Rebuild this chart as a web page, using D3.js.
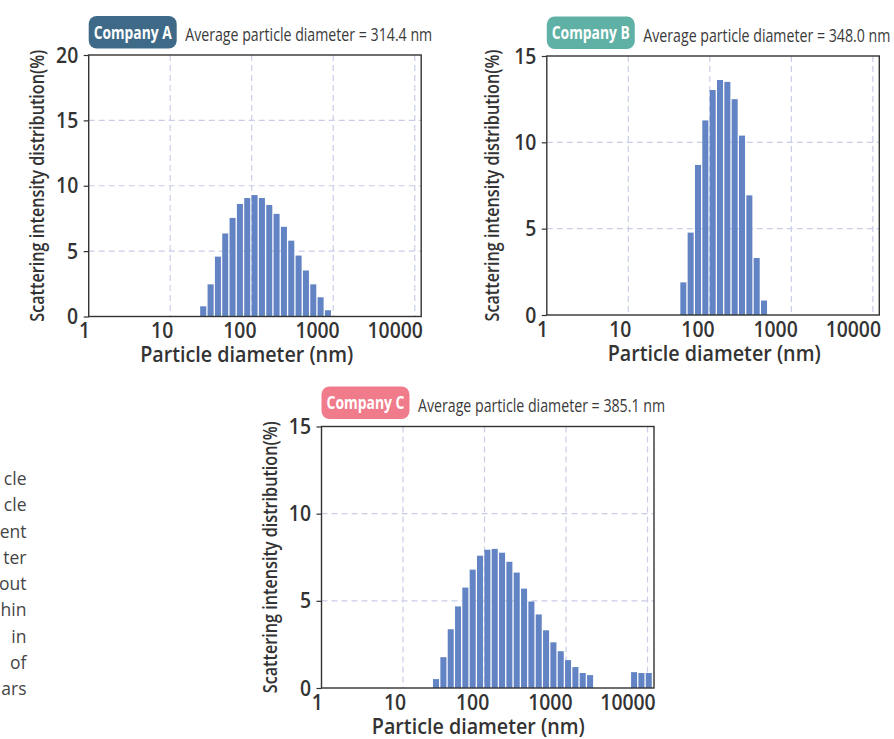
<!DOCTYPE html>
<html><head><meta charset="utf-8">
<script src="https://cdn.jsdelivr.net/npm/d3@7"></script>
<style>
body{margin:0;background:#fff;}
svg{display:block;}
</style></head><body>
<svg id="chart" width="894" height="739"></svg>
<script>
// ---- DATA ----
// bin centres (nm), log-spaced bins shared by all three measurements
const binDiameters = [25.4, 31.3, 38.5, 47.3, 58.2, 71.6, 88.1, 108.4, 133.4, 164.1,
  201.8, 248.3, 305.5, 375.8, 462.4, 568.9, 699.8, 861.0, 1059, 1303,
  1603, 1972, 2427, 2985, 3673, 4519, 5559, 6839, 8414, 10351];
const companyNames = ["Company A", "Company B", "Company C"];
const averageDiameters = [314.4, 348.0, 385.1];
const valuesA = [0.78, 2.46, 4.58, 6.35, 7.54, 8.61, 9.06, 9.29, 9.06, 8.53,
  7.85, 6.86, 5.80, 4.66, 3.52, 2.46, 1.47, 0.48, 0, 0,
  0, 0, 0, 0, 0, 0, 0, 0, 0, 0];
const valuesB = [0, 0, 0, 1.89, 4.77, 8.69, 11.27, 13.03, 13.61, 13.50,
  12.50, 10.39, 6.93, 3.30, 0.84, 0, 0, 0, 0, 0,
  0, 0, 0, 0, 0, 0, 0, 0, 0, 0];
const valuesC = [0.51, 1.77, 3.37, 4.68, 5.76, 6.79, 7.59, 7.93, 7.98, 7.76,
  7.24, 6.62, 5.70, 4.96, 4.22, 3.31, 2.62, 2.11, 1.60, 1.20,
  0.86, 0.74, 0, 0, 0, 0, 0, 0.91, 0.86, 0.86];
const xTickValues = [1, 10, 100, 1000, 10000];
const xGridValues = [10, 100, 1000, 10000];
const yTicksA = [0, 5, 10, 15, 20];
const yTicksB = [0, 5, 10, 15];
const yTicksC = [0, 5, 10, 15];
const xAxisTitle = "Particle diameter (nm)";
const yAxisTitle = "Scattering intensity distribution(%)";
const sideTextFragments = ["cle", "cle", "ent", "ter", "out", "hin", "in", "of", "ars"];

// ---- LAYOUT ----
const svg = d3.select("#chart");
const FONT = "'Open Sans','Noto Sans','DejaVu Sans',sans-serif";
const PW = 332.5;
const panels = [
  {name: companyNames[0], avg: averageDiameters[0], values: valuesA, yTicks: yTicksA,
   left: 88.7, top: 55, bottom: 316.5, badgeTop: 16, badgeColor: "#3e6a88", yLabelX: 44, xTitleX: 246.7},
  {name: companyNames[1], avg: averageDiameters[1], values: valuesB, yTicks: yTicksB,
   left: 546.8, top: 56, bottom: 315, badgeTop: 16.5, badgeColor: "#5fb1a6", yLabelX: 498.5, xTitleX: 714.2},
  {name: companyNames[2], avg: averageDiameters[2], values: valuesC, yTicks: yTicksC,
   left: 321.5, top: 426.5, bottom: 688, badgeTop: 386.5, badgeColor: "#f07b8b", yLabelX: 276.5, xTitleX: 478.3}
];

function squeeze(sel, factor) {
  sel.each(function () {
    const w = this.getComputedTextLength();
    this.setAttribute("textLength", (w * factor).toFixed(2));
    this.setAttribute("lengthAdjust", "spacingAndGlyphs");
  });
}

const logs = binDiameters.map(d => Math.log10(d));
function halfStep(i) {
  const a = i > 0 ? logs[i] - logs[i - 1] : logs[i + 1] - logs[i];
  return a / 2;
}

panels.forEach(p => {
  const g = svg.append("g");
  const yMax = p.yTicks[p.yTicks.length - 1];
  const x = d3.scaleLog().domain([1, 12000]).range([p.left, p.left + PW]);
  const y = d3.scaleLinear().domain([0, yMax]).range([p.bottom, p.top]);
  const xLabel = d3.scaleLog().domain([1, 10000]).range([p.left - 4.7, p.left + 306]);

  // gridlines
  g.append("g").selectAll("line").data(xGridValues).join("line")
    .attr("x1", d => x(d)).attr("x2", d => x(d))
    .attr("y1", p.top).attr("y2", p.bottom)
    .attr("stroke", "#c9cde8").attr("stroke-width", 1.2).attr("stroke-dasharray", "6,4");
  g.append("g").selectAll("line").data(p.yTicks.filter(v => v > 0 && v < yMax)).join("line")
    .attr("x1", p.left).attr("x2", p.left + PW)
    .attr("y1", d => y(d)).attr("y2", d => y(d))
    .attr("stroke", "#c9cde8").attr("stroke-width", 1.2).attr("stroke-dasharray", "6,4");

  // bars
  const bars = binDiameters.map((d, i) => ({d, i, v: p.values[i]})).filter(b => b.v > 0);
  g.append("g").selectAll("rect").data(bars).join("rect")
    .attr("x", b => x(Math.pow(10, logs[b.i] - halfStep(b.i))) + 0.65)
    .attr("width", b => x(Math.pow(10, logs[b.i] + halfStep(b.i))) - x(Math.pow(10, logs[b.i] - halfStep(b.i))) - 1.3)
    .attr("y", b => y(b.v))
    .attr("height", b => y(0) - y(b.v))
    .attr("fill", "#6384c4");

  // frame
  g.append("rect").attr("x", p.left).attr("y", p.top).attr("width", PW).attr("height", p.bottom - p.top)
    .attr("fill", "none").attr("stroke", "#333").attr("stroke-width", 1.4);

  // y axis
  const gy = g.append("g").attr("transform", `translate(${p.left},0)`)
    .call(d3.axisLeft(y).tickValues(p.yTicks).tickSize(5).tickPadding(5.5).tickFormat(d3.format("d")));
  gy.select(".domain").remove();
  gy.selectAll(".tick line").attr("stroke", "#333").attr("stroke-width", 1.2);
  gy.attr("font-family", null).attr("font-size", null);
  gy.selectAll(".tick text").attr("font-family", FONT).attr("font-size", 22).attr("font-weight", 600).attr("fill", "#333")
    .call(squeeze, 0.88);

  // x axis labels
  const gx = g.append("g").attr("transform", `translate(0,${p.bottom})`)
    .call(d3.axisBottom(xLabel).tickValues(xTickValues).tickSize(0).tickPadding(6).tickFormat(d3.format("d")));
  gx.select(".domain").remove();
  gx.attr("font-family", null).attr("font-size", null);
  gx.selectAll(".tick text").attr("font-family", FONT).attr("font-size", 22).attr("font-weight", 600).attr("fill", "#333")
    .call(squeeze, 0.88);

  // axis titles
  g.append("text").attr("x", p.xTitleX).attr("y", p.bottom + 45.5)
    .attr("text-anchor", "middle").attr("font-family", FONT).attr("font-size", 21).attr("font-weight", 600)
    .attr("fill", "#333").attr("textLength", 213).attr("lengthAdjust", "spacingAndGlyphs")
    .text(xAxisTitle);
  g.append("text")
    .attr("transform", `translate(${p.yLabelX},${(p.top + p.bottom) / 2}) rotate(-90)`)
    .attr("text-anchor", "middle").attr("font-family", FONT).attr("font-size", 20).attr("font-weight", 600)
    .attr("fill", "#333").attr("textLength", 272).attr("lengthAdjust", "spacingAndGlyphs")
    .text(yAxisTitle);

  // badge + title
  g.append("rect").attr("x", p.left).attr("y", p.badgeTop).attr("width", 88).attr("height", 32.5)
    .attr("rx", 8).attr("fill", p.badgeColor);
  g.append("text").attr("x", p.left + 44).attr("y", p.badgeTop + 22.5)
    .attr("text-anchor", "middle").attr("font-family", FONT).attr("font-size", 18).attr("font-weight", 700)
    .attr("fill", "#fff").attr("textLength", 78).attr("lengthAdjust", "spacingAndGlyphs")
    .text(p.name);
  g.append("text").attr("x", p.left + 96.5).attr("y", p.badgeTop + 25)
    .attr("font-family", FONT).attr("font-size", 18.5).attr("fill", "#3a3a3a")
    .attr("textLength", 247).attr("lengthAdjust", "spacingAndGlyphs")
    .text(`Average particle diameter = ${p.avg.toFixed(1)} nm`);
});

// cut-off paragraph text at the left edge
svg.append("g").selectAll("text").data(sideTextFragments).join("text")
  .attr("x", 26.5).attr("y", (d, i) => 485 + i * 26.25)
  .attr("text-anchor", "end").attr("font-family", FONT).attr("font-size", 17.5).attr("fill", "#454545")
  .text(d => d);
</script>
</body></html>
